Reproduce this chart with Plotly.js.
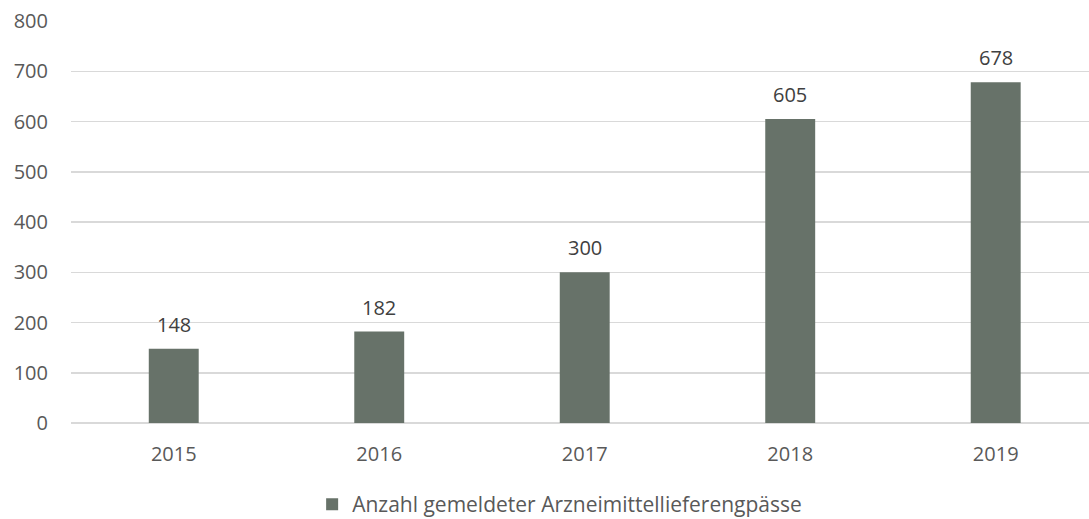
<!DOCTYPE html>
<html>
<head>
<meta charset="utf-8">
<script src="https://cdn.plot.ly/plotly-3.0.1.min.js"></script>
<style>html,body{margin:0;padding:0;background:#fff}#chart{width:1089px;height:519px}</style>
</head>
<body>
<div id="chart"></div>
<script>
const years = ["2015", "2016", "2017", "2018", "2019"];
const counts = [148, 182, 300, 605, 678];
const seriesName = "Anzahl gemeldeter Arzneimittellieferengpässe";
const yTicks = [0, 100, 200, 300, 400, 500, 600, 700, 800];

const textColor = "#595959";
const barColor = "#677269";
const gridColor = "#d9d9d9";
const fontFamily = "Open Sans, Noto Sans, sans-serif";

const trace = {
  type: "bar",
  x: years,
  y: counts,
  name: seriesName,
  marker: { color: barColor },
  showlegend: true,
  hoverinfo: "x+y"
};

const annotations = years.map((yr, i) => ({
  x: i,
  y: counts[i],
  xref: "x",
  yref: "y",
  text: String(counts[i]),
  showarrow: false,
  xanchor: "center",
  yanchor: "bottom",
  yshift: 9,
  font: { family: fontFamily, size: 20, color: "#404040" }
}));

const layout = {
  width: 1089,
  height: 519,
  margin: { l: 71, r: 0, t: 21, b: 96, autoexpand: false },
  paper_bgcolor: "#ffffff",
  plot_bgcolor: "#ffffff",
  font: { family: fontFamily, size: 20, color: textColor },
  bargap: 0.757,
  xaxis: {
    type: "category",
    range: [-0.5, 4.454],
    showgrid: false,
    showline: false,
    zeroline: false,
    ticks: "",
    ticklabelstandoff: 17,
    tickfont: { family: fontFamily, size: 20, color: textColor },
    automargin: false,
    fixedrange: true
  },
  yaxis: {
    range: [0, 800],
    tickvals: yTicks,
    ticktext: yTicks.map(String),
    showgrid: true,
    gridcolor: gridColor,
    gridwidth: 1.5,
    zeroline: true,
    zerolinecolor: gridColor,
    zerolinewidth: 1.5,
    showline: false,
    ticks: "",
    ticklabelstandoff: 22,
    tickfont: { family: fontFamily, size: 20, color: textColor },
    automargin: false,
    fixedrange: true
  },
  showlegend: true,
  legend: {
    orientation: "h",
    x: 0.48,
    xanchor: "center",
    y: -0.203,
    yanchor: "middle",
    font: { family: fontFamily, size: 21, color: textColor },
    itemwidth: 30
  },
  annotations: annotations
};

Plotly.newPlot("chart", [trace], layout, { displayModeBar: false, staticPlot: true });
</script>
</body>
</html>
